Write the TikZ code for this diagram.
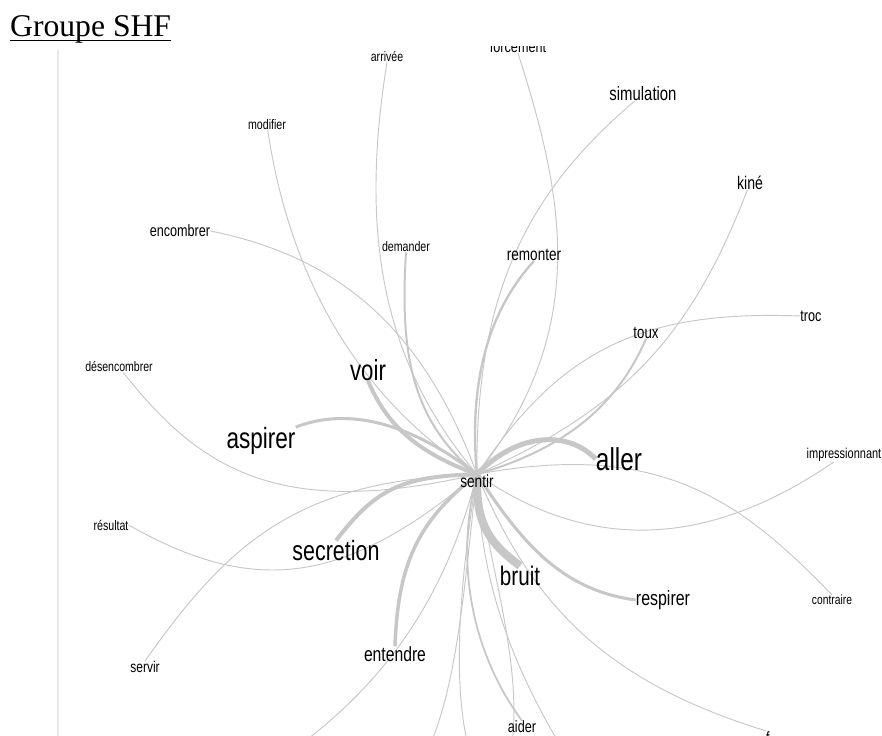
\documentclass[tikz,border=0pt]{standalone}
\usepackage{fontspec}
\setmainfont{Liberation Sans}
\newfontfamily\titrefont{Liberation Serif}
\newfontfamily\motfont[FakeStretch=0.77]{Liberation Sans}
\pgfdeclarelayer{bg}
\pgfsetlayers{bg,main}

\tikzset{
	mot/.style={font=\motfont\fontsize{#1}{#1}\selectfont, inner sep=0pt},
	lien/.style={draw=black!22, line width=#1},
	lien/.default=0.8pt
}

\begin{document}
\begin{tikzpicture}[x=0.03cm, y=-0.03cm]
	\useasboundingbox (0,0) rectangle (882,736);
	\node[font=\titrefont\fontsize{27}{27}\selectfont, inner sep=0pt, anchor=base west] (titre) at (10,37) {Groupe SHF};
	\draw[line width=1.4pt] ([yshift=-3pt]titre.base west) -- ([yshift=-3pt]titre.base east);
	\draw[black!9, line width=1.4pt] (58,50) -- (58,736);
	\begin{scope}
		\clip (58,47) rectangle (882,760);
		\node[mot=11.7pt] (arrivee) at (387,57) {arrivée};
		\node[mot=14pt] (forcement) at (518,47) {forcement};
		\node[mot=16.5pt] (simulation) at (643,94) {simulation};
		\node[mot=11.8pt] (modifier) at (267,125) {modifier};
		\node[mot=15.6pt] (kine) at (750,183) {kiné};
		\node[mot=14pt] (encombrer) at (180,231) {encombrer};
		\node[mot=11.8pt] (demander) at (406,247) {demander};
		\node[mot=15pt] (remonter) at (534,255) {remonter};
		\node[mot=14pt] (troc) at (811,316) {troc};
		\node[mot=14.7pt] (toux) at (646,333) {toux};
		\node[mot=11.7pt] (desencombrer) at (119,367) {désencombrer};
		\node[mot=24.7pt] (voir) at (368,370) {voir};
		\node[mot=25pt] (aspirer) at (261,441) {aspirer};
		\node[mot=27pt] (aller) at (619,459) {aller};
		\node[mot=12.2pt] (impressionnant) at (844,455) {impressionnant};
		\node[mot=15pt] (sentir) at (477,481) {sentir};
		\node[mot=11.8pt] (resultat) at (111,525) {résultat};
		\node[mot=23.8pt] (secretion) at (336,551) {secretion};
		\node[mot=22.9pt] (bruit) at (520,576) {bruit};
		\node[mot=17.7pt] (respirer) at (663,600) {respirer};
		\node[mot=11.4pt] (contraire) at (832,600) {contraire};
		\node[mot=13.3pt] (servir) at (145,667) {servir};
		\node[mot=17.4pt] (entendre) at (395,654) {entendre};
		\node[mot=14pt] (aider) at (522,727) {aider};
		\node[mot=14pt, anchor=base west] (fin) at (766,743) {f};
	\end{scope}
	\coordinate (basA) at (300,745);
	\coordinate (basB) at (430,745);
	\coordinate (basC) at (468,745);
	\coordinate (basD) at (512,745);
	\coordinate (basE) at (560,745);
	\begin{pgfonlayer}{bg}
		\foreach \a/\px/\py/\qx/\qy in {arrivee.south/360/230/380/360, forcement.south/565/200/590/330, simulation/530/190/475/290, modifier/290/280/360/400, encombrer.east/330/255/420/320, kine/690/340/620/410, troc.west/640/310/560/350, contraire.north/740/500/660/440, impressionnant/720/540/600/560, desencombrer/200/470/280/520, resultat.east/260/600/350/580, servir.north/230/540/300/480, fin.north west/600/680/530/600, basA/400/670/450/580, basB/458/680/465/580, basC/452/680/460/580, basD/522/660/490/570, basE/510/660/480/580} {
			\draw[lien] (\a) .. controls (\px,\py) and (\qx,\qy) .. (sentir.north);
		}
		\foreach \a/\px/\py/\qx/\qy/\w in {bruit.north/485/540/476/520/7pt, aller.west/570/432/520/430/4.3pt, voir.south/385/420/410/450/3.4pt, secretion.north/375/490/400/476/3.4pt, entendre.north/398/560/420/520/3pt, aspirer.north east/340/410/400/415/2.6pt, respirer.west/560/590/520/540/2.6pt, remonter.south/480/320/470/400/2pt, toux.south/615/410/560/450/1.7pt, demander.south/400/350/410/420/1.7pt, aider.north/470/650/455/560/1.5pt} {
			\draw[lien=\w] (\a) .. controls (\px,\py) and (\qx,\qy) .. (sentir.north);
		}
	\end{pgfonlayer}
\end{tikzpicture}
\end{document}
